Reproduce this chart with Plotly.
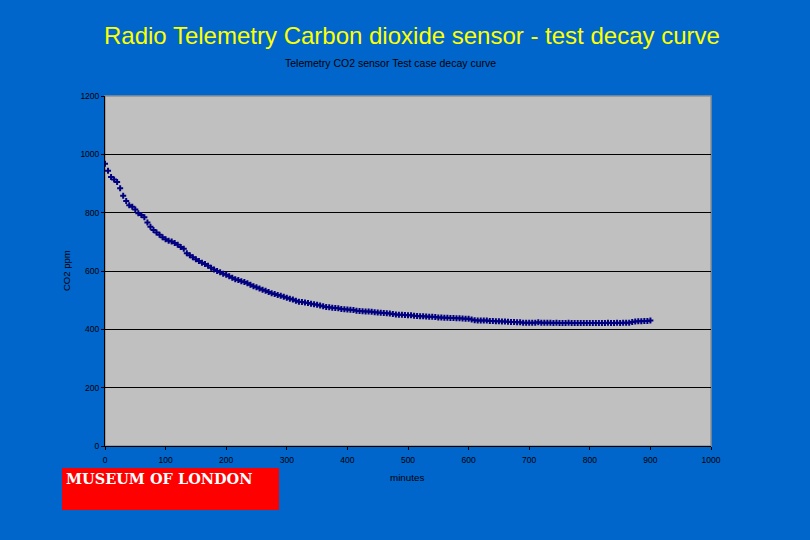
import plotly.graph_objects as go

minutes = list(range(0, 905, 5))
co2_ppm = [
    968, 944, 922, 914, 905, 884, 858, 840, 825, 820,
    811, 798, 792, 784, 766, 752, 741, 732, 724, 716,
    709, 704, 701, 696, 690, 682, 676, 661, 654, 647,
    640, 634, 628, 624, 618, 611, 605, 600, 596, 591,
    587, 582, 577, 572, 569, 565, 562, 558, 553, 548,
    544, 540, 536, 532, 528, 524, 521, 518, 515, 512,
    508, 505, 502, 498, 495, 494, 492, 490, 488, 486,
    484, 482, 479, 477, 476, 474, 473, 472, 470, 469,
    468, 467, 466, 464, 463, 462, 461, 461, 460, 459,
    458, 457, 456, 455, 454, 453, 451, 450, 450, 449,
    448, 448, 447, 446, 445, 445, 444, 443, 443, 442,
    441, 441, 440, 440, 439, 439, 438, 438, 437, 436,
    436, 434, 431, 430, 430, 430, 430, 429, 429, 428,
    428, 427, 427, 426, 425, 425, 424, 424, 423, 423,
    423, 423, 423, 424, 423, 423, 423, 423, 422, 423,
    422, 422, 422, 423, 422, 422, 422, 422, 422, 422,
    422, 422, 422, 422, 422, 422, 423, 422, 422, 423,
    422, 423, 423, 423, 425, 427, 428, 428, 429, 429,
    430,
]

main_title = "Radio Telemetry Carbon dioxide sensor - test decay curve"
sub_title = "Telemetry CO2 sensor Test case decay curve"
x_title = "minutes"
y_title = "CO2 ppm"
logo_text = "MUSEUM OF LONDON"

BG = "#0066CC"
L, R, T, B = 105, 99, 96, 94
W, H = 810, 540
pw, ph = W - L - R, H - T - B


def px_x(px):
    return (px - L) / pw


def px_y(py):
    return (H - B - py) / ph


fig = go.Figure()
fig.add_trace(go.Scatter(
    x=minutes, y=co2_ppm, mode="markers",
    marker=dict(symbol="cross", size=5, color="#000080",
                line=dict(width=0)),
    hoverinfo="x+y", showlegend=False,
))

fig.update_layout(
    width=W, height=H,
    margin=dict(l=L, r=R, t=T, b=B),
    paper_bgcolor=BG, plot_bgcolor="#C0C0C0",
    font=dict(family="Liberation Sans, Arial, sans-serif", color="black", size=8.5),
    xaxis=dict(range=[0, 1000], dtick=100, showgrid=False, zeroline=False,
               showline=True, linecolor="black", linewidth=1,
               ticks="outside", ticklen=3, tickcolor="black",
               ticklabelstandoff=3,
               tickfont=dict(size=8.5, color="black")),
    yaxis=dict(range=[0, 1200], dtick=200, showgrid=True, gridcolor="black",
               gridwidth=1, zeroline=False,
               showline=True, linecolor="black", linewidth=1,
               ticks="outside", ticklen=3, tickcolor="black",
               tickfont=dict(size=8.5, color="black")),
    shapes=[
        dict(type="rect", xref="paper", yref="paper", x0=0, x1=1, y0=0, y1=1,
             line=dict(color="#909090", width=1.5), layer="below"),
        dict(type="rect", xref="paper", yref="paper",
             x0=px_x(62), x1=px_x(279), y0=px_y(510), y1=px_y(468),
             fillcolor="#FF0000", line=dict(width=0)),
    ],
    annotations=[
        dict(text=main_title, xref="paper", yref="paper", x=px_x(412), y=px_y(36),
             showarrow=False, xanchor="center", yanchor="middle",
             font=dict(size=24, color="#FFFF00", family="Liberation Sans, Arial, sans-serif")),
        dict(text=sub_title, xref="paper", yref="paper", x=px_x(390), y=px_y(63),
             showarrow=False, xanchor="center", yanchor="middle",
             font=dict(size=10.5, color="black")),
        dict(text=y_title, xref="paper", yref="paper", x=px_x(66), y=px_y(271),
             showarrow=False, xanchor="center", yanchor="middle", textangle=-90,
             font=dict(size=9.5, color="black")),
        dict(text=x_title, xref="paper", yref="paper", x=px_x(407), y=px_y(477),
             showarrow=False, xanchor="center", yanchor="middle",
             font=dict(size=9.8, color="black")),
        dict(text="<b>" + logo_text + "</b>", xref="paper", yref="paper",
             x=px_x(64), y=px_y(478), showarrow=False,
             xanchor="left", yanchor="middle",
             font=dict(size=14.5, color="white", family="DejaVu Serif, serif")),
    ],
)

fig.write_html("out.html")
